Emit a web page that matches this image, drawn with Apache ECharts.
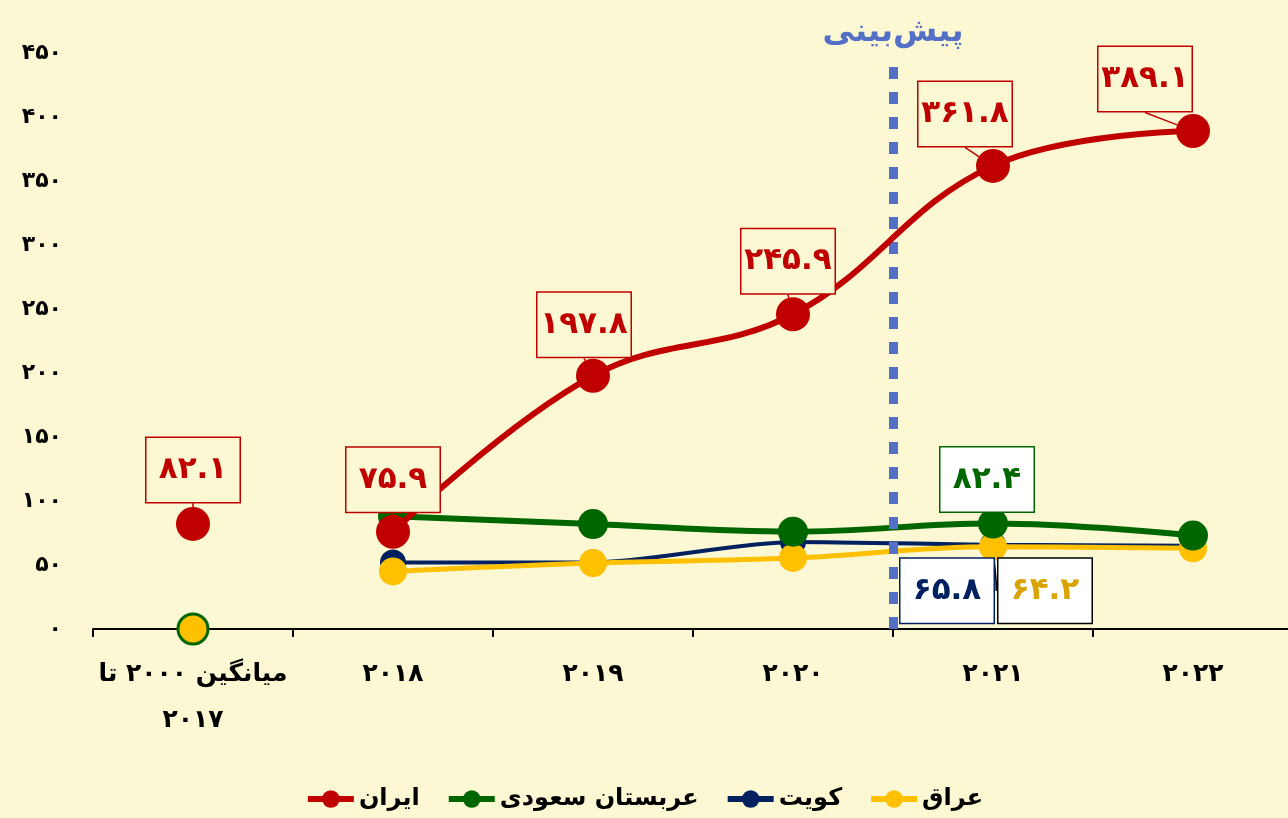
<!DOCTYPE html>
<html>
<head>
<meta charset="utf-8">
<script src="https://cdn.jsdelivr.net/npm/echarts@6/dist/echarts.min.js"></script>
<style>
  html, body { margin: 0; padding: 0; background: #fcf8d3; }
  #main { width: 1288px; height: 818px; }
</style>
</head>
<body>
<div id="main"></div>
<script>
// categories and values
var categories = ['میانگین ۲۰۰۰ تا\n۲۰۱۷', '۲۰۱۸', '۲۰۱۹', '۲۰۲۰', '۲۰۲۱', '۲۰۲۲'];
var yTickLabels = ['۰', '۵۰', '۱۰۰', '۱۵۰', '۲۰۰', '۲۵۰', '۳۰۰', '۳۵۰', '۴۰۰', '۴۵۰'];
var seriesNames = ['ایران', 'عربستان سعودی', 'کویت', 'عراق'];

var iranAvg = 82.1;
var othersAvg = 0;
var iran = [null, 75.9, 197.8, 245.9, 361.8, 389.1];
var saudi = [null, 88, 82, 76, 82.4, 73];
var kuwait = [null, 52, 52, 68, 65.8, 65];
var iraq = [null, 45, 51.5, 55.5, 64.2, 63];

var forecastLabel = 'پیش‌بینی';
var forecastAt = 4; // boundary between 2020 and 2021

var FONT = 'DejaVu Sans';

function toFa(v) {
  var d = '۰۱۲۳۴۵۶۷۸۹';
  return String(v).replace(/[0-9]/g, function (c) { return d[+c]; });
}

function boxLabel(color, fill, pos) {
  return {
    show: true,
    position: pos,
    distance: 5,
    formatter: function (p) { return toFa(p.value); },
    color: color,
    fontFamily: FONT,
    fontWeight: 'bold',
    fontSize: 31,
    backgroundColor: fill,
    borderColor: color,
    borderWidth: 1.5,
    width: 81,
    height: 48,
    lineHeight: 48,
    align: 'center',
    padding: [8, 6]
  };
}

// only the 2021 point carries a label for the three small series
function onlyAt(values, idx, label) {
  return values.map(function (v, i) {
    return i === idx ? { value: v, label: label } : v;
  });
}

var chart = echarts.init(document.getElementById('main'));

var iranShift = [[0, 0], [0, 2], [-9, 3], [-5, 1], [-28, 2], [-48, 2]];

chart.setOption({
  backgroundColor: '#fcf8d3',
  animation: false,
  grid: { left: 93, width: 1200, top: 53, bottom: 189, outerBoundsMode: 'none', containLabel: false },
  legend: {
    data: seriesNames,
    bottom: 2,
    left: 'center',
    itemWidth: 46,
    itemHeight: 22,
    itemGap: 26,
    lineStyle: { width: 6 },
    textStyle: { fontFamily: FONT, fontWeight: 'bold', fontSize: 24, color: '#000' }
  },
  xAxis: [{
    type: 'category',
    data: categories,
    axisLine: { lineStyle: { color: '#000', width: 2 } },
    axisTick: { show: true, interval: 0, length: 8, lineStyle: { color: '#000', width: 2 } },
    axisLabel: {
      interval: 0,
      color: '#000', fontFamily: FONT, fontWeight: 'bold', fontSize: 25,
      lineHeight: 46, margin: 22
    }
  }, {
    type: 'value', min: 0, max: 6, show: false
  }],
  yAxis: {
    type: 'value',
    min: 0,
    max: 450,
    interval: 50,
    axisLine: { show: false },
    axisTick: { show: false },
    splitLine: { show: false },
    axisLabel: {
      color: '#000', fontFamily: FONT, fontWeight: 'bold', fontSize: 22, margin: 31,
      formatter: function (v) { return yTickLabels[Math.round(v / 50)]; }
    }
  },
  series: [
    {
      name: seriesNames[0],
      type: 'line',
      data: iran,
      smooth: 0.4,
      symbol: 'circle',
      symbolSize: 34,
      z: 5,
      itemStyle: { color: '#c00000' },
      lineStyle: { color: '#c00000', width: 6 },
      label: boxLabel('#c00000', '#fcf8d3', 'top'),
      labelLine: { show: true, lineStyle: { color: '#c00000', width: 1.5 } },
      labelLayout: function (p) {
        var s = iranShift[p.dataIndex];
        return { dx: s[0], dy: s[1] };
      }
    },
    {
      name: seriesNames[1],
      type: 'line',
      data: onlyAt(saudi, 4, boxLabel('#006600', '#ffffff', 'top')),
      smooth: 0.4,
      symbol: 'circle',
      symbolSize: 30,
      z: 4,
      itemStyle: { color: '#006600' },
      lineStyle: { color: '#006600', width: 6 },
      label: { show: false },
      labelLine: { show: true, lineStyle: { color: '#006600', width: 1.5 } },
      labelLayout: { dx: -6, dy: 8 }
    },
    {
      name: seriesNames[2],
      type: 'line',
      data: onlyAt(kuwait, 4, boxLabel('#002060', '#ffffff', 'bottom')),
      smooth: 0.25,
      symbol: 'circle',
      symbolSize: 26,
      z: 3,
      itemStyle: { color: '#002060' },
      lineStyle: { color: '#002060', width: 4 },
      label: { show: false },
      labelLine: { show: true, lineStyle: { color: '#002060', width: 1.5 } },
      labelLayout: { dx: -46, dy: -4 }
    },
    {
      name: seriesNames[3],
      type: 'line',
      data: onlyAt(iraq, 4, Object.assign(boxLabel('#d9a300', '#ffffff', 'bottom'), { borderColor: '#000' })),
      smooth: 0.4,
      symbol: 'circle',
      symbolSize: 28,
      z: 3,
      itemStyle: { color: '#ffc000' },
      lineStyle: { color: '#ffc000', width: 5 },
      label: { show: false },
      labelLine: { show: true, lineStyle: { color: '#000', width: 1.5 } },
      labelLayout: { dx: 52, dy: -7 }
    },
    {
      // average point for Iran, not joined to the line
      name: seriesNames[0],
      type: 'line',
      data: [iranAvg],
      symbol: 'circle',
      symbolSize: 34,
      itemStyle: { color: '#c00000' },
      label: boxLabel('#c00000', '#fcf8d3', 'top'),
      labelLine: { show: true, lineStyle: { color: '#c00000', width: 1.5 } }
    },
    {
      // average point for the other three countries
      name: seriesNames[3],
      type: 'line',
      data: [othersAvg],
      symbol: 'circle',
      symbolSize: 30,
      z: 6,
      itemStyle: { color: '#ffc000', borderColor: '#006600', borderWidth: 3 }
    },
    {
      name: 'forecast',
      type: 'line',
      xAxisIndex: 1,
      data: [],
      markLine: {
        silent: true,
        symbol: 'none',
        lineStyle: { color: '#5470c6', width: 9, type: [12, 13] },
        label: {
          show: true,
          position: 'end',
          formatter: forecastLabel,
          color: '#5470c6',
          fontFamily: FONT,
          fontWeight: 'bold',
          fontSize: 32,
          distance: 17
        },
        data: [[{ coord: [forecastAt, 0] }, { coord: [forecastAt, 440] }]]
      }
    }
  ]
});
</script>
</body>
</html>
